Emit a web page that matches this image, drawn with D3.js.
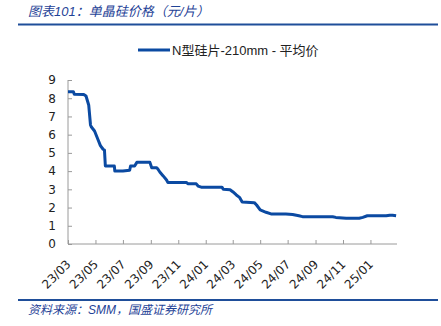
<!DOCTYPE html>
<html><head><meta charset="utf-8">
<script src="https://cdn.jsdelivr.net/npm/d3@7"></script>
<style>
body{margin:0;background:#fff;}
svg{display:block;}
</style></head>
<body>
<svg id="c" width="441" height="326"></svg>
<script>
const titleText = "图表101：单晶硅价格（元/片）";
const sourceText = "资料来源：SMM，国盛证券研究所";
const seriesName = "N型硅片-210mm - 平均价";
const yTicks = [0,1,2,3,4,5,6,7,8,9];
const xTickLabels = ["23/03","23/05","23/07","23/09","23/11","24/01","24/03","24/05","24/07","24/09","24/11","25/01"];
const dates = ["2023-03-01","2023-03-13","2023-03-15","2023-04-05","2023-04-10","2023-04-16","2023-04-20","2023-04-22","2023-04-29","2023-05-07","2023-05-12","2023-05-18","2023-05-21","2023-05-23","2023-06-12","2023-06-13","2023-07-01","2023-07-16","2023-07-18","2023-07-27","2023-08-01","2023-08-30","2023-09-03","2023-09-14","2023-09-17","2023-09-21","2023-09-28","2023-10-06","2023-10-09","2023-11-19","2023-11-23","2023-12-11","2023-12-15","2023-12-22","2024-02-06","2024-02-09","2024-02-24","2024-03-01","2024-03-09","2024-03-16","2024-03-22","2024-04-18","2024-04-23","2024-05-01","2024-05-14","2024-05-25","2024-06-27","2024-07-12","2024-07-26","2024-08-03","2024-10-09","2024-10-16","2024-11-08","2024-12-07","2024-12-15","2024-12-25","2025-02-05","2025-02-13","2025-02-19","2025-02-27"];
const prices = [8.36,8.36,8.22,8.20,8.12,7.63,6.53,6.42,6.20,5.71,5.40,5.20,5.16,4.28,4.28,4.00,4.00,4.05,4.28,4.28,4.48,4.48,4.19,4.19,4.10,3.95,3.75,3.51,3.37,3.37,3.30,3.30,3.18,3.12,3.12,3.00,2.98,2.87,2.69,2.56,2.30,2.27,2.14,1.87,1.74,1.65,1.65,1.62,1.55,1.50,1.50,1.46,1.41,1.41,1.46,1.55,1.55,1.58,1.58,1.55];

const parse = d3.timeParse("%Y-%m-%d");
const data = dates.map((d,i)=>({date:parse(d), v:prices[i]}));
const svg = d3.select("#c");
const blue = "#0b4aa2";
const cjk = "'Liberation Sans','Noto Sans CJK SC',sans-serif";

// header
svg.append("text").attr("x",28).attr("y",16).attr("font-family",cjk).attr("font-size",13)
  .attr("font-style","italic").attr("fill","#1f4397").text(titleText);
svg.append("line").attr("x1",18).attr("x2",438).attr("y1",24.5).attr("y2",24.5)
  .attr("stroke","#1f4e9a").attr("stroke-width",2);
// footer
svg.append("line").attr("x1",18).attr("x2",438).attr("y1",300).attr("y2",300)
  .attr("stroke","#1f4e9a").attr("stroke-width",2);
svg.append("text").attr("x",28).attr("y",314).attr("font-family",cjk).attr("font-size",12)
  .attr("font-style","italic").attr("fill","#1f4397").text(sourceText);

// legend
svg.append("line").attr("x1",138).attr("x2",170).attr("y1",50).attr("y2",50)
  .attr("stroke",blue).attr("stroke-width",3);
svg.append("text").attr("x",172).attr("y",55).attr("font-family",cjk).attr("font-size",13)
  .attr("fill","#222").text(seriesName);

const x = d3.scaleTime().domain([parse("2023-03-01"), parse("2025-03-01")]).range([68,397]);
const y = d3.scaleLinear().domain([0,9]).range([244,80]);

// y axis
const yAxis = d3.axisLeft(y).tickValues(yTicks).tickSize(-4).tickPadding(12).tickFormat(d3.format("d"));
const gy = svg.append("g").attr("transform","translate(68,0)").call(yAxis);
gy.select(".domain").attr("stroke","#9a9a9a").attr("d","M0,80V244");
gy.selectAll(".tick line").attr("stroke","#9a9a9a");
gy.selectAll("text").attr("font-family","'DejaVu Sans',sans-serif").attr("font-size",12).attr("fill","#222");

// x axis
const tickDates = xTickLabels.map(s=>d3.timeParse("%y/%m")(s));
const xAxis = d3.axisBottom(x).tickValues(tickDates).tickSize(-4).tickFormat((d,i)=>xTickLabels[i]);
const gx = svg.append("g").attr("transform","translate(0,244)").call(xAxis);
gx.select(".domain").attr("stroke","#9a9a9a").attr("d","M68,0H397");
gx.selectAll(".tick line").attr("stroke","#9a9a9a");
gx.selectAll("text").attr("font-family","'DejaVu Sans',sans-serif").attr("font-size",12).attr("fill","#222")
  .attr("text-anchor","end").attr("dy",null).attr("y",null)
  .attr("transform","translate(3,21) rotate(-45)");

// line
const line = d3.line().x(d=>x(d.date)).y(d=>y(d.v));
svg.append("path").datum(data).attr("d",line).attr("fill","none")
  .attr("stroke",blue).attr("stroke-width",3).attr("stroke-linejoin","round");
</script>
</body></html>
